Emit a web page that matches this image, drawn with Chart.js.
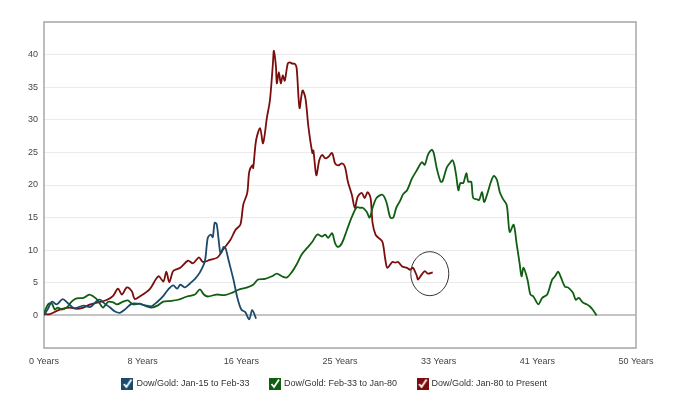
<!DOCTYPE html>
<html>
<head>
<meta charset="utf-8">
<script src="https://cdn.jsdelivr.net/npm/chart.js@4/dist/chart.umd.min.js"></script>
<style>
  html, body { margin: 0; padding: 0; background: #fff; }
  #wrap { width: 680px; height: 402px; }
</style>
</head>
<body>
<div id="wrap"><canvas id="c" width="680" height="402"></canvas></div>
<script>
// months since start of each period, and Dow/Gold readings
const blueMonths = [0, 4, 8, 13, 19, 24, 31, 40, 47, 54, 57, 60, 67, 72, 77, 82, 89, 95, 104, 109, 115, 121, 126, 131, 135, 138, 143, 148, 153, 158, 163, 166, 169, 171, 173, 175, 177, 179, 182, 184, 187, 192, 196, 200, 204, 208, 211, 215];
const blueValues = [0, 1.0, 2.1, 1.7, 2.5, 1.9, 1.1, 1.5, 1.3, 2.3, 2.4, 2.0, 1.2, 0.6, 0.4, 0.9, 1.8, 1.8, 1.5, 1.4, 2.1, 3.0, 4.0, 4.6, 4.1, 4.7, 4.3, 4.9, 5.6, 6.6, 8.3, 11.9, 12.4, 12.0, 14.2, 14.0, 11.6, 9.5, 10.5, 10.3, 8.5, 5.5, 2.7, 0.9, 0.5, -0.6, 0.8, -0.5];

const greenMonths = [0, 3, 5, 8, 11, 14, 18, 23, 28, 33, 40, 46, 50, 54, 57, 60, 65, 70, 74, 80, 85, 90, 97, 104, 109, 115, 121, 128, 136, 145, 153, 158, 162, 166, 175, 183, 191, 198, 206, 212, 217, 224, 231, 236, 241, 246, 251, 256, 261, 267, 272, 277, 282, 285, 288, 292, 295, 298, 302, 307, 312, 317, 320, 323, 327, 330, 333, 337, 343, 347, 351, 354, 357, 361, 364, 368, 373, 378, 383, 386, 389, 393, 395, 398, 402, 404, 408, 411, 414, 416, 418, 420, 422, 425, 428, 430, 433, 435, 439, 441, 444, 446, 449, 453, 456, 459, 462, 465, 469, 472, 476, 479, 482, 484, 486, 490, 493, 496, 501, 505, 510, 515, 518, 521, 524, 528, 531, 536, 539, 542, 546, 550, 553, 556, 560];
const greenValues = [0.3, 1.4, 1.8, 1.8, 0.9, 1.2, 0.9, 1.2, 2.1, 2.6, 2.7, 3.2, 2.9, 2.4, 1.7, 1.2, 2.1, 2.0, 1.7, 2.1, 2.3, 1.7, 1.8, 1.4, 1.2, 1.5, 2.1, 2.2, 2.4, 2.9, 3.2, 4.0, 3.2, 2.9, 3.2, 3.1, 3.5, 4.0, 4.3, 4.7, 5.5, 5.6, 6.0, 6.4, 6.0, 5.8, 6.6, 7.8, 9.3, 10.4, 11.3, 12.4, 12.1, 12.4, 11.9, 12.6, 11.1, 10.5, 11.1, 13.1, 15.1, 16.6, 16.5, 16.5, 15.9, 15.0, 16.5, 18.0, 18.5, 17.4, 15.0, 15.0, 16.5, 17.6, 18.6, 19.2, 21.0, 22.3, 23.5, 23.1, 24.6, 25.4, 24.9, 22.6, 20.5, 20.6, 22.6, 23.3, 23.8, 23.0, 21.2, 19.2, 20.3, 20.3, 21.8, 20.5, 20.5, 18.0, 17.8, 17.7, 18.9, 17.4, 18.5, 20.5, 21.4, 20.8, 18.9, 17.9, 16.9, 12.8, 13.9, 11.0, 8.0, 6.0, 7.3, 5.5, 3.2, 2.9, 1.7, 2.7, 3.2, 5.5, 6.0, 6.7, 5.8, 4.4, 4.3, 3.5, 2.4, 2.7, 2.0, 1.7, 1.4, 0.9, 0];

const redMonths = [0, 6, 16, 26, 33, 40, 47, 55, 64, 70, 75, 79, 84, 89, 92, 97, 107, 116, 121, 124, 127, 131, 138, 146, 151, 157, 161, 168, 176, 181, 189, 194, 199, 202, 206, 208, 211, 212, 215, 219, 222, 226, 229, 232, 233, 235, 236, 238, 240, 242, 244, 247, 249, 252, 254, 256, 259, 262, 265, 268, 272, 273, 276, 279, 282, 285, 288, 292, 295, 298, 302, 305, 308, 312, 315, 318, 322, 325, 328, 331, 333, 336, 339, 343, 346, 348, 353, 356, 359, 363, 368, 371, 374, 378, 379, 383, 386, 389, 394];
const redValues = [0.2, 0.2, 0.9, 1.2, 1.0, 1.2, 1.7, 2.0, 2.4, 3.0, 4.1, 3.2, 4.3, 3.7, 2.5, 2.9, 4.0, 6.0, 5.2, 6.7, 5.1, 6.8, 7.3, 8.4, 8.0, 8.9, 8.2, 8.5, 8.9, 10.0, 11.6, 13.1, 13.9, 17.0, 18.8, 22.0, 23.0, 22.6, 26.9, 28.7, 26.4, 30.4, 33.0, 38.6, 40.6, 38.3, 35.6, 37.3, 35.6, 36.8, 36.0, 38.6, 38.8, 38.6, 38.6, 38.0, 31.8, 34.5, 33.3, 28.9, 24.9, 25.3, 21.5, 23.8, 24.6, 24.1, 24.3, 24.9, 23.3, 23.0, 23.3, 22.8, 20.5, 18.5, 16.5, 18.2, 18.8, 18.0, 18.9, 18.0, 14.2, 12.4, 11.9, 11.3, 8.5, 7.3, 8.2, 8.1, 8.2, 7.5, 7.3, 7.0, 7.3, 6.0, 5.5, 6.3, 6.8, 6.4, 6.6];

const seriesLabels = ["Dow/Gold: Jan-15 to Feb-33", "Dow/Gold: Feb-33 to Jan-80", "Dow/Gold: Jan-80 to Present"];
const seriesColors = ["#1b4a6b", "#0f5e12", "#7b0d0d"];

// highlighted spot (month, value) for the ring
const ringAt = [391, 6.4];

function checkBox(color) {
  const c = document.createElement("canvas");
  c.width = 12;
  c.height = 12;
  const g = c.getContext("2d");
  g.fillStyle = color;
  g.fillRect(0, 0, 12, 12);
  g.strokeStyle = "#fff";
  g.lineWidth = 1.8;
  g.beginPath();
  g.moveTo(2.5, 6);
  g.lineTo(5, 9);
  g.lineTo(10, 1.5);
  g.stroke();
  return c;
}

function toPoints(xs, ys) {
  return xs.map((x, i) => ({ x, y: ys[i] }));
}

const FRAME_PLUGIN = {
  id: "frame",
  afterLayout: (chart) => {
    // nudge the legend row up under the axis labels and centre it like the original
    const lg = chart.legend;
    if (!lg) return;
    lg.top -= 7.5;
    lg.bottom -= 7.5;
    lg.left += 17;
    lg.right += 17;
  },
  beforeDatasetsDraw: (chart) => {
    const a = chart.chartArea;
    const ctx = chart.ctx;
    ctx.save();
    ctx.strokeStyle = "#a8a8a8";
    ctx.lineWidth = 1.5;
    ctx.strokeRect(a.left, a.top, a.right - a.left, a.bottom - a.top);
    ctx.restore();
  },
  afterDatasetsDraw: (chart) => {
    const ctx = chart.ctx;
    const cx = chart.scales.x.getPixelForValue(ringAt[0]);
    const cy = chart.scales.y.getPixelForValue(ringAt[1]);
    ctx.save();
    ctx.strokeStyle = "#333";
    ctx.lineWidth = 1;
    ctx.beginPath();
    ctx.ellipse(cx, cy, 19, 22, 0, 0, Math.PI * 2);
    ctx.stroke();
    ctx.restore();
  },
};

const datasets = [
  [blueMonths, blueValues],
  [greenMonths, greenValues],
  [redMonths, redValues],
].map(([xs, ys], i) => ({
  label: seriesLabels[i],
  data: toPoints(xs, ys),
  borderColor: seriesColors[i],
  backgroundColor: seriesColors[i],
  borderWidth: 1.8,
  pointRadius: 0,
  pointStyle: checkBox(seriesColors[i]),
  tension: 0.3,
}));

new Chart(document.getElementById("c"), {
  type: "line",
  data: { datasets },
  options: {
    responsive: false,
    animation: false,
    layout: { padding: { top: 22, right: 44, left: 0, bottom: 0 } },
    scales: {
      x: {
        type: "linear",
        min: 0,
        max: 600,
        afterFit: (s) => { s.height = 18; },
        grid: { display: false, drawTicks: false },
        border: { display: false },
        ticks: {
          stepSize: 100,
          padding: 8,
          color: "#444",
          font: { family: "Liberation Sans", size: 9 },
          callback: (v) => Math.floor(v / 12) + " Years",
        },
      },
      y: {
        min: -5,
        max: 45,
        afterFit: (s) => { s.width = 44; },
        border: { display: false },
        grid: {
          drawTicks: false,
          color: (c) => (c.tick.value === 0 ? "#c4c4c4" : "#ebebeb"),
          lineWidth: (c) => (c.tick.value === 0 ? 2 : 1),
        },
        ticks: {
          stepSize: 5,
          padding: 6,
          color: "#444",
          font: { family: "Liberation Sans", size: 9 },
          callback: (v) => (v < 0 || v > 40 ? "" : v),
        },
      },
    },
    plugins: {
      tooltip: { enabled: false },
      legend: {
        position: "bottom",
        maxHeight: 36,
        labels: {
          usePointStyle: true,
          padding: 21,
          color: "#333",
          font: { family: "Liberation Sans", size: 9 },
        },
      },
    },
  },
  plugins: [FRAME_PLUGIN],
});
</script>
</body>
</html>
